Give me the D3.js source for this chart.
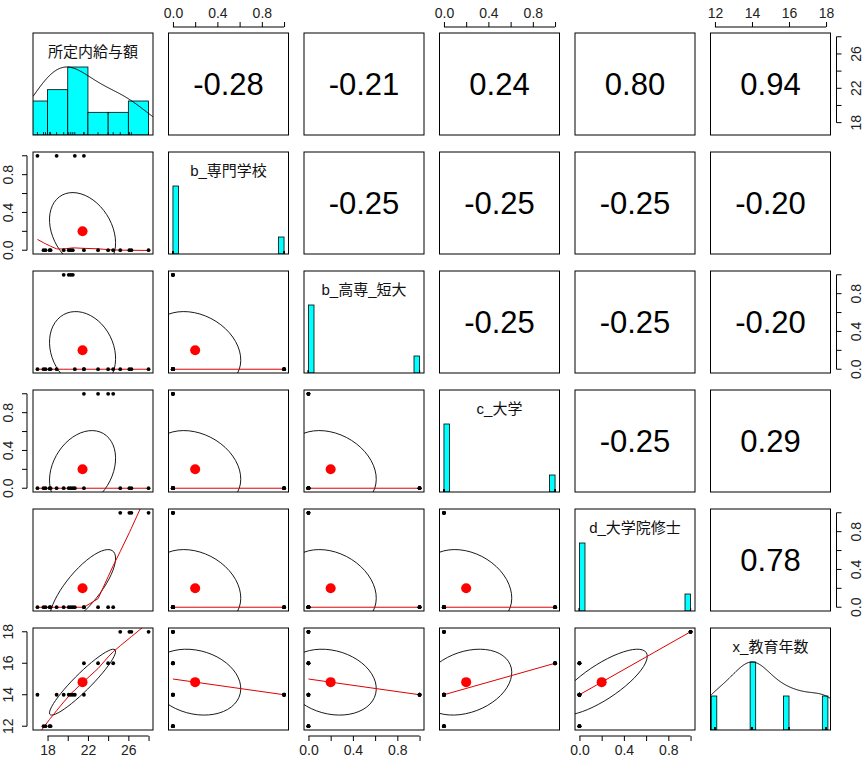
<!DOCTYPE html>
<html><head><meta charset="utf-8">
<script src="https://cdn.jsdelivr.net/npm/d3@7"></script>
<style>body{margin:0;background:#fff}svg{font-family:"Liberation Sans",Arial,"Noto Sans CJK JP",sans-serif}</style>
</head><body>
<svg id="chart" width="865" height="765"></svg>
<script>
// observations (one per person)
var salary   = [17.6,17.8,18.2,18.3, 17.0,18.9,20.7,21.6, 19.6,20.1,20.3,20.5, 21.6,23.0,24.0,24.5, 25.2,26.1,26.3,28.0];
var bSenmon  = [0,0,0,0, 1,1,1,1, 0,0,0,0, 0,0,0,0, 0,0,0,0];
var bKosen   = [0,0,0,0, 0,0,0,0, 1,1,1,1, 0,0,0,0, 0,0,0,0];
var cDaigaku = [0,0,0,0, 0,0,0,0, 0,0,0,0, 1,1,1,1, 0,0,0,0];
var dInshi   = [0,0,0,0, 0,0,0,0, 0,0,0,0, 0,0,0,0, 1,1,1,1];
var eduYears = [12,12,12,12, 14,14,14,14, 14,14,14,14, 16,16,16,16, 18,18,18,18];

var varNames = ["所定内給与額","b_専門学校","b_高専_短大","c_大学","d_大学院修士","x_教育年数"];
var columns = [salary,bSenmon,bKosen,cDaigaku,dInshi,eduYears];

// correlations shown in the upper triangle
var corText = [
  ["","-0.28","-0.21","0.24","0.80","0.94"],
  ["","","-0.25","-0.25","-0.25","-0.20"],
  ["","","","-0.25","-0.25","-0.20"],
  ["","","","","-0.25","0.29"],
  ["","","","","","0.78"]
];

var salTicks = [18,20,22,24,26,28], salLabels = [18,22,26];
var binTicks = [0,0.2,0.4,0.6,0.8,1], binLabels = [0,0.4,0.8];
var eduTicks = [12,14,16,18], eduLabels = [12,14,16,18];
var tickSets = [[salTicks,salLabels],[binTicks,binLabels],[binTicks,binLabels],[binTicks,binLabels],[binTicks,binLabels],[eduTicks,eduLabels]];
var histBreaks = [2,0.05,0.05,0.05,0.05,0.3];
var histStart = [16,0,0,0,0,11.8];

var X0 = 33, Y0 = 33, SX = 135.5, SY = 119, W = 120, H = 102;
var svg = d3.select("#chart");
var nv = columns.length;

function mean(a){return d3.mean(a);}
function sd(a){return d3.deviation(a);}
function cor(a,b){var ma=mean(a),mb=mean(b),s=0;for(var i=0;i<a.length;i++)s+=(a[i]-ma)*(b[i]-mb);return s/((a.length-1)*sd(a)*sd(b));}

var scalesX = columns.map(function(c){var e=d3.extent(c),r=e[1]-e[0];return d3.scaleLinear().domain([e[0]-0.04*r,e[1]+0.04*r]).range([0,W]);});
var scalesY = columns.map(function(c){var e=d3.extent(c),r=e[1]-e[0];return d3.scaleLinear().domain([e[0]-0.04*r,e[1]+0.04*r]).range([H,0]);});

function lowess(x,y,f,iter){
  var n=x.length, o=d3.range(n).sort(function(a,b){return x[a]-x[b]||a-b;});
  var xs=o.map(function(i){return x[i];}), yv=o.map(function(i){return y[i];});
  var ns=Math.max(2,Math.min(n,Math.floor(f*n+1e-7)));
  var rw=new Array(n).fill(1), fit=new Array(n), res=new Array(n), range=xs[n-1]-xs[0];
  function lowest(xv,nleft,nright){
    var h=Math.max(xv-xs[nleft],xs[nright]-xv),h9=0.999*h,h1=0.001*h,a=0,w=new Array(n).fill(0),j=nleft;
    for(;j<n;j++){var r=Math.abs(xs[j]-xv);if(r<=h9){w[j]=(r<=h1?1:Math.pow(1-Math.pow(r/h,3),3))*rw[j];a+=w[j];}else if(xs[j]>xv)break;}
    var nrt=j-1; if(a<=0)return null;
    for(j=nleft;j<=nrt;j++)w[j]/=a;
    if(h>0){a=0;for(j=nleft;j<=nrt;j++)a+=w[j]*xs[j];var b=xv-a,c=0;for(j=nleft;j<=nrt;j++)c+=w[j]*(xs[j]-a)*(xs[j]-a);
      if(Math.sqrt(c)>0.001*range){b/=c;for(j=nleft;j<=nrt;j++)w[j]*=(b*(xs[j]-a)+1);}}
    var s=0;for(j=nleft;j<=nrt;j++)s+=w[j]*yv[j];return s;
  }
  for(var it=0;it<=iter;it++){
    var nleft=0,nright=ns-1;
    for(var i=0;i<n;i++){
      if(i>0&&xs[i]===xs[i-1]){fit[i]=fit[i-1];continue;}
      while(nright<n-1){if(xs[i]-xs[nleft]<=xs[nright+1]-xs[i])break;nleft++;nright++;}
      var v=lowest(xs[i],nleft,nright);fit[i]=v===null?yv[i]:v;
    }
    for(i=0;i<n;i++)res[i]=yv[i]-fit[i];
    if(it===iter)break;
    var ar=res.map(Math.abs),sc=d3.sum(ar)/n,cmad=6*d3.median(ar);
    if(cmad<1e-7*sc)break;
    for(i=0;i<n;i++){var r=ar[i];rw[i]=r<=0.001*cmad?1:(r>0.999*cmad?0:Math.pow(1-Math.pow(r/cmad,2),2));}
  }
  return xs.map(function(v,i){return [v,fit[i]];});
}

// gaussian kde, bw = nrd * 1.2 ; null when bandwidth collapses (binary data)
function kde(a,pts){
  var n=a.length,s=sd(a),srt=a.slice().sort(d3.ascending);
  var q=(d3.quantile(srt,0.75)-d3.quantile(srt,0.25))/1.34;
  var bw=1.06*Math.min(s,q)*Math.pow(n,-0.2)*1.2;
  if(!(bw>0))return null;
  return pts.map(function(p){return [p,d3.sum(a,function(v){var z=(p-v)/bw;return Math.exp(-z*z/2);})];});
}

var defs = svg.append("defs");
defs.append("clipPath").attr("id","pclip").append("rect").attr("width",W).attr("height",H);

for (var i=0;i<nv;i++) for (var j=0;j<nv;j++) {
  var g = svg.append("g").attr("transform","translate("+(X0+SX*j)+","+(Y0+SY*i)+")");
  var inner = g.append("g").attr("clip-path","url(#pclip)");
  var xsc = scalesX[j], ysc = scalesY[i];
  if (i===j) {
    var col = columns[i], bw = histBreaks[i], st = histStart[i];
    var nb = Math.ceil((d3.max(col)-st)/bw-1e-9);
    var counts = d3.range(nb).map(function(k){
      var lo=st+k*bw, hi=lo+bw;
      return {lo:lo,hi:hi,c:col.filter(function(v){return (v>lo+1e-9||(k===0&&v>=lo-1e-9))&&v<=hi+1e-9;}).length};
    });
    var maxC = d3.max(counts,function(d){return d.c;});
    var hy = d3.scaleLinear().domain([0,1.5]).range([H,0]);
    inner.selectAll("rect.bar").data(counts.filter(function(d){return d.c>0;})).join("rect")
      .attr("x",function(d){return xsc(d.lo);}).attr("width",function(d){return xsc(d.hi)-xsc(d.lo);})
      .attr("y",function(d){return hy(d.c/maxC);}).attr("height",function(d){return H-hy(d.c/maxC);})
      .attr("fill","#00ffff").attr("stroke","#000").attr("stroke-width",0.8);
    var dom = xsc.domain();
    var kp = kde(col, d3.range(0,201).map(function(k){return dom[0]+(dom[1]-dom[0])*k/200;}));
    if (kp) {
      var km = d3.max(kp,function(d){return d[1];});
      inner.append("path").attr("d",d3.line().x(function(d){return xsc(d[0]);}).y(function(d){return hy(d[1]/km);})(kp))
        .attr("fill","none").attr("stroke","#000").attr("stroke-width",1);
    }
    inner.selectAll("line.rug").data(col).join("line")
      .attr("x1",function(d){return xsc(d);}).attr("x2",function(d){return xsc(d);}).attr("y1",H).attr("y2",H-3)
      .attr("stroke","#000").attr("stroke-width",0.8);
    g.append("text").attr("x",W/2).attr("y",24).attr("text-anchor","middle").attr("font-size",15).attr("fill","#111").text(varNames[i]);
  } else if (i<j) {
    g.append("text").attr("x",W/2).attr("y",H/2+11).attr("text-anchor","middle").attr("font-size",31).attr("fill","#000").text(corText[i][j]);
  } else {
    var xv = columns[j], yv = columns[i];
    var pts = xv.map(function(v,k){return [v,yv[k]];});
    var xm=mean(xv), ym=mean(yv), xsd=sd(xv), ysd=sd(yv), r=cor(xv,yv);
    var th = r!==0 ? Math.sign(r)/Math.sqrt(2) : 1/Math.sqrt(2);
    var a1=Math.sqrt(1+r), a2=Math.sqrt(1-r);
    var ell = d3.range(0,52).map(function(k){var an=k*2*Math.PI/51,c=Math.cos(an),s=Math.sin(an);
      return [(c*a1*th + s*a2*(-th))*xsd+xm, (c*a1*th + s*a2*th)*ysd+ym];});
    var ln = d3.line().x(function(d){return xsc(d[0]);}).y(function(d){return ysc(d[1]);});
    inner.append("path").attr("d",ln(ell)).attr("fill","none").attr("stroke","#000").attr("stroke-width",0.9);
    inner.append("path").attr("d",ln(lowess(xv,yv,2/3,3))).attr("fill","none").attr("stroke","#e00000").attr("stroke-width",1);
    inner.selectAll("circle.pt").data(pts).join("circle").attr("cx",function(d){return xsc(d[0]);}).attr("cy",function(d){return ysc(d[1]);}).attr("r",1.9).attr("fill","#000");
    inner.append("circle").attr("cx",xsc(xm)).attr("cy",ysc(ym)).attr("r",5).attr("fill","#ff0000");
  }
  g.append("rect").attr("width",W).attr("height",H).attr("fill","none").attr("stroke","#000").attr("stroke-width",1);

  // axes, alternating like pairs()
  var tk = tickSets[j];
  if (i===0 && j%2===1) drawX(g, xsc, tk, true);
  if (i===nv-1 && j%2===0) drawX(g, xsc, tk, false);
  var tky = tickSets[i];
  if (j===0 && i%2===1) drawY(g, scalesY[i], tky, true);
  if (j===nv-1 && i%2===0) drawY(g, scalesY[i], tky, false);
}

function drawX(g, sc, tk, top){
  var ax = (top ? d3.axisTop(sc) : d3.axisBottom(sc)).tickValues(tk[0]).tickSize(5).tickPadding(4)
    .tickFormat(function(v){return tk[1].indexOf(v)>=0 ? (v<2? v.toFixed(1):v) : "";});
  var a = g.append("g").call(ax);
  a.select(".domain").remove();
  a.selectAll(".tick line").attr("stroke","#000");
  a.selectAll("text").attr("font-size",14).attr("fill","#222").attr("font-family",null);
  a.attr("transform", top ? "translate(0,-6)" : "translate(0,"+(H+6)+")");
  a.append("line").attr("x1",sc(tk[0][0])).attr("x2",sc(tk[0][tk[0].length-1])).attr("stroke","#000").attr("y1",0).attr("y2",0);
}
function drawY(g, sc, tk, left){
  var a = g.append("g").attr("transform","translate("+(left?-6:W+6)+",0)");
  a.append("line").attr("y1",sc(tk[0][0])).attr("y2",sc(tk[0][tk[0].length-1])).attr("stroke","#000");
  tk[0].forEach(function(v){
    a.append("line").attr("x1",0).attr("x2",left?-5:5).attr("y1",sc(v)).attr("y2",sc(v)).attr("stroke","#000");
    if (tk[1].indexOf(v)>=0) {
      var tx = left?-14:14;
      a.append("text").attr("transform","translate("+tx+","+sc(v)+") rotate(-90)")
        .attr("text-anchor","middle").attr("dy",left?"0":"0.75em").attr("font-size",14).attr("fill","#222").text(v<2?v.toFixed(1):v);
    }
  });
}
</script>
</body></html>
